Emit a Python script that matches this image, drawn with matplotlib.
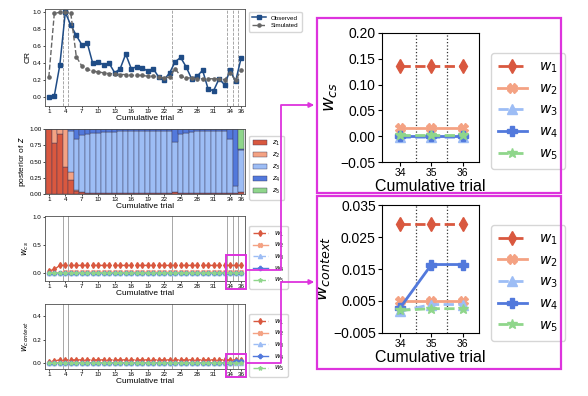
import numpy as np
import matplotlib
matplotlib.use('Agg')
import matplotlib.pyplot as plt
from matplotlib.patches import Rectangle

plt.rcParams['font.family'] = ['Liberation Sans', 'DejaVu Sans']

trials = np.arange(1, 37)

cr_obs = [0.0, 0.02, 0.38, 1.0, 0.85, 0.73, 0.62, 0.64, 0.40, 0.42, 0.38, 0.40,
          0.29, 0.34, 0.51, 0.34, 0.36, 0.35, 0.31, 0.34, 0.24, 0.21, 0.29, 0.42,
          0.47, 0.36, 0.22, 0.25, 0.32, 0.10, 0.08, 0.22, 0.15, 0.32, 0.19, 0.46]
cr_sim = [0.24, 0.99, 1.0, 1.0, 0.99, 0.48, 0.37, 0.33, 0.31, 0.30, 0.29, 0.28,
          0.28, 0.27, 0.27, 0.26, 0.26, 0.26, 0.25, 0.25, 0.24, 0.23, 0.24, 0.34,
          0.25, 0.23, 0.23, 0.22, 0.22, 0.22, 0.22, 0.22, 0.21, 0.29, 0.20, 0.32]

# posterior of z, per trial
z1 = [1.0, 0.78, 0.92, 0.41, 0.22, 0.05, 0.03, 0.02, 0.015, 0.01, 0.01, 0.01,
      0.01, 0.01, 0.01, 0.01, 0.01, 0.01, 0.01, 0.01, 0.01, 0.01, 0.01, 0.03,
      0.01, 0.01, 0.01, 0.01, 0.01, 0.01, 0.01, 0.01, 0.01, 0.02, 0.01, 0.03]
z2 = [0.0, 0.22, 0.08, 0.59, 0.12, 0.01, 0.005, 0.0, 0.0, 0.0, 0.0, 0.0,
      0.0, 0.0, 0.0, 0.0, 0.0, 0.0, 0.0, 0.0, 0.0, 0.0, 0.0, 0.0,
      0.0, 0.0, 0.0, 0.0, 0.0, 0.0, 0.0, 0.0, 0.0, 0.0, 0.0, 0.0]
z3 = [0.0, 0.0, 0.0, 0.0, 0.63, 0.79, 0.87, 0.90, 0.92, 0.93, 0.94, 0.95,
      0.95, 0.96, 0.96, 0.96, 0.96, 0.96, 0.96, 0.96, 0.96, 0.96, 0.96, 0.77,
      0.91, 0.93, 0.95, 0.96, 0.96, 0.96, 0.96, 0.96, 0.96, 0.83, 0.12, 0.65]
z4 = [0.0, 0.0, 0.0, 0.0, 0.03, 0.15, 0.095, 0.08, 0.065, 0.06, 0.05, 0.04,
      0.04, 0.03, 0.03, 0.03, 0.03, 0.03, 0.03, 0.03, 0.03, 0.03, 0.03, 0.20,
      0.08, 0.06, 0.04, 0.03, 0.03, 0.03, 0.03, 0.03, 0.03, 0.15, 0.87, 0.02]
z5 = [0.0] * 35 + [0.30]

# weights (cs)
w_cs = [
    [0.04, 0.065, 0.136] + [0.136] * 33,
    [0.0, 0.0, 0.004] + [0.015] * 33,
    [0.0] * 4 + [-0.002] * 32,
    [0.0] * 36,
    [0.0] * 4 + [0.002] * 32,
]
# weights (context)
w_ctx = [
    [0.01, 0.02] + [0.029] * 34,
    [0.0, 0.002, 0.003] + [0.005] * 33,
    [0.0] * 4 + [0.0018] * 30 + [0.0039, 0.0039],
    [0.0] * 4 + [0.0029] * 30 + [0.0164, 0.0164],
    [0.0] * 4 + [0.0021] * 30 + [0.0026, 0.0026],
]

boundaries = [3.5, 4.5, 23.5, 33.5, 34.5, 35.5]
xticks = list(range(1, 35, 3)) + [36]
zoom_trials = [34, 35, 36]

z_colors = ['#d9583f', '#f4a283', '#9dbdf5', '#5279dc', '#8fd68b']
w_colors = ['#d9583f', '#f4a283', '#9dbdf5', '#5279dc', '#8fd68b']
w_markers = ['d', 'X', '^', 'P', '*']
w_styles = ['--', '-', '--', '-', '--']
w_labels = ['$w_1$', '$w_2$', '$w_3$', '$w_4$', '$w_5$']
mag = '#dd33dd'

fig = plt.figure(figsize=(5.88, 3.96), dpi=100)

def left_axes(rect):
    ax = fig.add_axes(rect)
    ax.set_xlim(0.3, 36.7)
    ax.set_xticks(xticks)
    ax.tick_params(labelsize=4.5, length=1.5, width=0.5, pad=1)
    ax.set_xlabel('Cumulative trial', fontsize=6, labelpad=0.5)
    for s in ax.spines.values():
        s.set_linewidth(0.6)
        s.set_color('0.3')
    return ax

# CR
ax1 = left_axes([0.0765, 0.7323, 0.340, 0.245])
for b in boundaries:
    ax1.axvline(b, color='0.6', lw=0.6, ls='--', zorder=0)
ax1.plot(trials, cr_obs, '-s', color='#1f4c86', ms=2.5, lw=1.1, label='Observed')
ax1.plot(trials, cr_sim, '--o', color='#666666', ms=2.3, lw=1.0, label='Simulated')
ax1.set_ylim(-0.1, 1.04)
ax1.set_yticks([0, 0.2, 0.4, 0.6, 0.8, 1.0])
ax1.set_ylabel('CR', fontsize=6, labelpad=1)
ax1.legend(loc='upper left', bbox_to_anchor=(1.005, 1.0), fontsize=4.5,
           handlelength=2.2, borderpad=0.5, labelspacing=0.4, frameon=True)

# posterior of z
ax2 = left_axes([0.0765, 0.5101, 0.340, 0.1641])
bottom = np.zeros(36)
for i, z in enumerate([z1, z2, z3, z4, z5]):
    ax2.bar(trials, z, width=1.0, bottom=bottom, color=z_colors[i],
            edgecolor='#3a3a5a', linewidth=0.3, label='$z_%d$' % (i + 1))
    bottom += np.array(z)
ax2.set_ylim(0, 1.0)
ax2.set_yticks([0, 0.25, 0.5, 0.75, 1.0])
ax2.set_ylabel('posterior of $z$', fontsize=6, labelpad=1)
ax2.legend(loc='upper left', bbox_to_anchor=(1.005, 0.95), fontsize=5,
           handlelength=2.0, borderpad=0.5, labelspacing=0.4)

# w_cs / w_context, full
for rect, wset, ylim, yt, lab in [
        ([0.0765, 0.2904, 0.340, 0.1641], w_cs, (-0.14, 1.01), [0, 0.5, 1.0], '$w_{cs}$'),
        ([0.0765, 0.0682, 0.340, 0.1641], w_ctx, (-0.048, 0.5), [0, 0.2, 0.4], '$w_{context}$')]:
    ax = left_axes(rect)
    for b in boundaries:
        ax.axvline(b, color='0.6', lw=0.6, ls='-', zorder=0)
    for i in range(5):
        ax.plot(trials, wset[i], ls=w_styles[i], marker=w_markers[i], color=w_colors[i],
                ms=3, lw=1.0, label=w_labels[i])
    ax.set_ylim(*ylim)
    ax.set_yticks(yt)
    ax.set_ylabel(lab, fontsize=6, labelpad=1)
    ax.legend(loc='upper left', bbox_to_anchor=(1.005, 0.9), fontsize=5,
              handlelength=2.2, borderpad=0.5, labelspacing=0.35)

# zoomed panels (trials 34-36)
for rect, wset, ylim, yt, ytl, lab in [
        ([0.6497, 0.5909, 0.165, 0.3258], w_cs, (-0.05, 0.20),
         [-0.05, 0, 0.05, 0.10, 0.15, 0.20],
         ['\u22120.05', '0.00', '0.05', '0.10', '0.15', '0.20'], '$w_{cs}$'),
        ([0.6497, 0.1591, 0.165, 0.3232], w_ctx, (-0.005, 0.035),
         [-0.005, 0.005, 0.015, 0.025, 0.035],
         ['\u22120.005', '0.005', '0.015', '0.025', '0.035'], '$w_{context}$')]:
    ax = fig.add_axes(rect)
    for b in [34.5, 35.5]:
        ax.axvline(b, color='0.2', lw=0.9, ls=':', zorder=0)
    for i in range(5):
        ax.plot(zoom_trials, wset[i][33:36], ls=w_styles[i], marker=w_markers[i],
                color=w_colors[i], ms=7, lw=2.0, label=w_labels[i])
    ax.set_xlim(33.42, 36.52)
    ax.set_ylim(*ylim)
    ax.set_xticks(zoom_trials)
    ax.set_yticks(yt)
    ax.set_yticklabels(ytl)
    ax.tick_params(axis='y', labelsize=10, length=3, pad=1.5)
    ax.tick_params(axis='x', labelsize=7.5, length=3, pad=1.5)
    ax.set_xlabel('Cumulative trial', fontsize=11.5, labelpad=0.5)
    ax.set_ylabel(lab, fontsize=13, labelpad=1)
    ax.legend(loc='upper left', bbox_to_anchor=(1.05, 0.9), fontsize=10,
              handlelength=2.1, borderpad=0.5, labelspacing=0.45, handletextpad=0.9)

# magenta boxes and arrows
ov = fig.add_axes([0, 0, 1, 1], zorder=10)
ov.set_xlim(0, 588)
ov.set_ylim(396, 0)
ov.axis('off')
ov.patch.set_alpha(0)
ov.add_patch(Rectangle((317, 18), 244, 175, fill=False, ec=mag, lw=1.6))
ov.add_patch(Rectangle((317, 196), 244, 173, fill=False, ec=mag, lw=1.6))
ov.add_patch(Rectangle((226, 255), 20, 34, fill=False, ec=mag, lw=1.4))
ov.add_patch(Rectangle((226, 354), 20, 23, fill=False, ec=mag, lw=1.4))
ov.plot([246, 281, 281, 312], [270, 270, 105, 105], color=mag, lw=1.3)
ov.plot([246, 281, 281, 312], [363, 363, 282, 282], color=mag, lw=1.3)
for y in [105, 282]:
    ov.annotate('', xy=(317, y), xytext=(306, y),
                arrowprops=dict(arrowstyle='-|>', color=mag, lw=1.3, mutation_scale=7))

fig.savefig('out.png', dpi=100)
